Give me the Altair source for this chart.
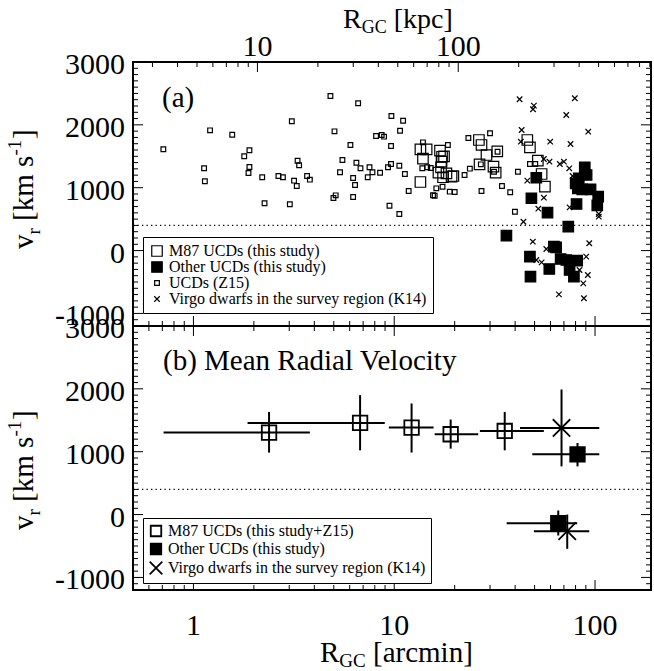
import altair as alt
import pandas as pd

# ---------------- data ----------------
# Panel (a): individual objects, R_GC [arcmin] and v_r [km/s]
z15_x = [0.708, 1.13, 1.14, 1.21, 1.56, 1.79, 1.90, 1.90, 1.88, 2.20, 2.26, 2.65, 2.79, 3.02, 3.09,
         3.17, 3.27, 3.30, 3.36, 3.68, 3.80, 4.81, 5.04, 4.98, 5.11, 5.37, 5.52, 6.05, 6.24, 6.24,
         6.38, 6.48, 6.61, 6.79, 7.38, 7.53, 7.79, 8.50, 8.12, 8.66, 8.90, 9.68, 11.07, 10.69, 9.64,
         9.31, 9.64, 10.6, 11.3, 9.47, 10.6, 11.8, 13.8, 15.2, 15.9, 16.2, 17.4, 18.5, 18.9, 20.0,
         22.4, 23.8, 23.4, 30.0, 27.2, 27.0, 32.7, 34.4, 37.8, 41.3, 39.9, 47.4, 31.4, 13.9, 14.6,
         50.4, 15.6]
z15_v = [1611, 1309, 1102, 1913, 1843, 1500, 1595, 1330, 1234, 1166, 752, 1186, 1166, 736, 2057,
         1112, 1027, 1430, 1357, 1186, 1128, 2459, 1897, 837, 879, 1245, 1441, 1680, 852, 1155,
         1043, 1398, 2343, 1309, 1166, 1325, 1245, 1239, 1823, 1839, 1812, 2141, 2066, 1907, 1664,
         1325, 1377, 1350, 1218, 714, 582, 948, 1309, 1314, 873, 990, 1016, 1680, 937, 932,
         1202, 1303, 1791, 1866, 948, 1372, 1573, 1027, 927, 1255, 618, 1377, 1255, 1722, 1325,
         1377, 880]

m87_x = [13.5, 14.5, 13.9, 13.5, 16.9, 17.3, 17.7, 17.2, 17.1, 16.6, 18.2, 17.5, 19.3, 19.7,
         26.4, 27.2, 28.8, 32.6, 26.6, 31.2, 32.0, 46.0, 47.4, 51.9, 54.2, 56.3]
m87_v = [1611, 1611, 1462, 1091, 1589, 1493, 1500, 1414, 1325, 1239, 1229, 1166, 1175, 1186,
         1759, 1680, 1520, 1579, 1372, 1335, 1239, 1759, 1643, 1430, 1218, 1016]

oth_x = [36.2, 48.2, 51.0, 58.0, 47.4, 47.7, 59.2, 62.4, 64.0, 67.4, 71.9, 74.7, 78.5, 81.5,
         73.6, 80.9, 82.1, 83.0, 88.9, 90.8, 86.4, 95.0, 103.7, 102.6, 80.1]
oth_v = [237, 832, 1159, 603, -97, -415, -293, 62, 52, -134, -150, -309, -415, -161,
         380, 741, 990, 1150, 1325, 1202, 975, 975, 857, 720, 1070]

k14_x = [42.1, 49.6, 49.1, 79.3, 71.9, 92.5, 43.1, 42.7, 59.8, 75.5, 55.6, 59.3, 66.8, 70.0,
         74.4, 77.3, 46.0, 55.6, 52.2, 74.7, 104.4, 104.4, 44.0, 49.0, 57.2, 51.0, 54.2, 93.6,
         90.4, 83.7, 92.1, 87.4, 66.1, 88.0]
k14_v = [2407, 2305, 2248, 2423, 2157, 1891, 1918, 1732, 1732, 1695, 1457, 1414, 1377, 1414,
         1309, 1186, 1112, 841, 666, 688, 582, 539, 459, 141, 25, -150, -187, 116,
         -97, -309, -389, -521, -696, -759]

# Panel (b): mean radial velocities with error bars
mm87_x = [2.38, 6.76, 12.2, 19.1, 35.5]
mm87_v = [1305, 1458, 1384, 1278, 1330]
mm87_xlo = [0.71, 1.86, 9.4, 15.9, 26.7]
mm87_xhi = [3.8, 8.97, 15.7, 26.2, 55.6]
mm87_vlo = [986, 1022, 986, 1049, 1022]
mm87_vhi = [1633, 1900, 1767, 1512, 1633]

moth_x = [81.8, 65.6]
moth_v = [959, -137]
moth_xlo = [48.7, 36.3]
moth_xhi = [105, 81.5]
moth_vlo = [767, -333]
moth_vhi = [1139, 65]

mdw_x = [68.1, 72.7]
mdw_v = [1378, -264]
mdw_xlo = [42.3, 49.6]
mdw_xhi = [105, 93.6]
mdw_vlo = [767, -545]
mdw_vhi = [1990, 0]

threshold_v = [400]

# axis ticks / labels
y_major = [-1000, 0, 1000, 2000]
y_minor = [v for v in range(-1100, 3000, 100) if v % 1000 != 0]
y_labels = [-1000, 0, 1000, 2000, 3000]
x_major = [1, 10, 100]
x_minor = [0.6, 0.7, 0.8, 0.9, 2, 3, 4, 5, 6, 7, 8, 9, 20, 30, 40, 50, 60, 70, 80, 90]
kpc_major = [10, 100]
kpc_minor = [3, 4, 5, 6, 7, 8, 9, 20, 30, 40, 50, 60, 70, 80, 90, 200, 300, 400, 500, 600, 700, 800, 900]
KPC_PER_ARCMIN = 4.8

# ---------------- layout ----------------
W, H, HP = 518, 528, 264
FONT = "Liberation Serif"
TICK_FS = 30

xs = alt.Scale(type="log", domain=[0.5, 190], nice=False)
ysT = alt.Scale(domain=[-1200, 3000], range=[HP, 0], nice=False, zero=False)
ysB = alt.Scale(domain=[-1200, 3000], range=[H, HP], nice=False, zero=False)


def X(f):
    return alt.X(f, type="quantitative", scale=xs, axis=None)


def Y(f, s):
    return alt.Y(f, type="quantitative", scale=s, axis=None)


layers = []

# ---- ticks (inward) ----
ymaj = pd.DataFrame({"v": y_major})
ymin = pd.DataFrame({"v": y_minor})
for s in (ysT, ysB):
    for df, L in ((ymaj, 10), (ymin, 5)):
        layers.append(alt.Chart(df).mark_rule(color="black", strokeWidth=1).encode(
            y=Y("v", s), x=alt.value(0), x2=alt.value(L)))
        layers.append(alt.Chart(df).mark_rule(color="black", strokeWidth=1).encode(
            y=Y("v", s), x=alt.value(W), x2=alt.value(W - L)))

xmaj = pd.DataFrame({"x": x_major})
xmin = pd.DataFrame({"x": x_minor})
for df, L in ((xmaj, 10), (xmin, 5)):
    for y0, y1 in ((H, H - L), (HP, HP - L), (HP, HP + L)):
        layers.append(alt.Chart(df).mark_rule(color="black", strokeWidth=1).encode(
            x=X("x"), y=alt.value(y0), y2=alt.value(y1)))

kmaj = pd.DataFrame({"kpc": kpc_major})
kmin = pd.DataFrame({"kpc": kpc_minor})
for df, L in ((kmaj, 10), (kmin, 5)):
    layers.append(alt.Chart(df).transform_calculate(x=f"datum.kpc / {KPC_PER_ARCMIN}").mark_rule(
        color="black", strokeWidth=1).encode(x=X("x"), y=alt.value(0), y2=alt.value(L)))

# divider between panels
layers.append(alt.Chart(pd.DataFrame({"v": [-1200]})).mark_rule(color="black", strokeWidth=2).encode(
    y=Y("v", ysT), x=alt.value(0), x2=alt.value(W)))

# dotted threshold lines
thr = pd.DataFrame({"v": threshold_v})
for s in (ysT, ysB):
    layers.append(alt.Chart(thr).mark_rule(color="black", strokeWidth=1.3, strokeDash=[1.3, 3.2]).encode(
        y=Y("v", s), x=alt.value(0), x2=alt.value(W)))

# ---- panel (a) points ----
series_top = ["M87 UCDs (this study)", "Other UCDs (this study)", "UCDs (Z15)",
              "Virgo dwarfs in the survey region (K14)"]
XPATH = "M-1,-1L1,1M-1,1L1,-1"
top_df = pd.concat([
    pd.DataFrame({"x": z15_x, "v": z15_v, "series": series_top[2]}),
    pd.DataFrame({"x": k14_x, "v": k14_v, "series": series_top[3]}),
    pd.DataFrame({"x": m87_x, "v": m87_v, "series": series_top[0]}),
    pd.DataFrame({"x": oth_x, "v": oth_v, "series": series_top[1]}),
], ignore_index=True)


def make_legend(y, pad, sw, **extra):
    return alt.Legend(title=None, orient="none", legendX=10, legendY=y, strokeColor="black",
                      fillColor="white", padding=pad, labelFont=FONT, labelFontSize=16,
                      labelColor="black", labelOffset=4, labelLimit=400, rowPadding=0,
                      symbolStrokeColor="black", symbolStrokeWidth=sw, symbolOpacity=1, **extra)


leg_top = make_legend(175, 6, 1.2)
layers.append(alt.Chart(top_df).mark_point(filled=True, strokeWidth=1.2, opacity=1).encode(
    x=X("x"), y=Y("v", ysT),
    shape=alt.Shape("series:N", scale=alt.Scale(domain=series_top,
                    range=["square", "square", "square", XPATH]), legend=leg_top),
    fill=alt.Fill("series:N", scale=alt.Scale(domain=series_top,
                  range=["transparent", "black", "transparent", "transparent"]), legend=leg_top),
    stroke=alt.Stroke("series:N", scale=alt.Scale(domain=series_top,
                      range=["black", "black", "black", "black"]), legend=leg_top),
    size=alt.Size("series:N", scale=alt.Scale(type="ordinal", domain=series_top,
                  range=[110, 110, 22, 30]), legend=leg_top),
))

# ---- panel (b) error bars and points ----
series_bot = ["M87 UCDs (this study+Z15)", "Other UCDs (this study)",
              "Virgo dwarfs in the survey region (K14)"]
bot_df = pd.concat([
    pd.DataFrame({"x": mm87_x, "v": mm87_v, "xlo": mm87_xlo, "xhi": mm87_xhi,
                  "vlo": mm87_vlo, "vhi": mm87_vhi, "series": series_bot[0]}),
    pd.DataFrame({"x": mdw_x, "v": mdw_v, "xlo": mdw_xlo, "xhi": mdw_xhi,
                  "vlo": mdw_vlo, "vhi": mdw_vhi, "series": series_bot[2]}),
    pd.DataFrame({"x": moth_x, "v": moth_v, "xlo": moth_xlo, "xhi": moth_xhi,
                  "vlo": moth_vlo, "vhi": moth_vhi, "series": series_bot[1]}),
], ignore_index=True)

layers.append(alt.Chart(bot_df).mark_rule(color="black", strokeWidth=2).encode(
    x=X("xlo"), x2="xhi", y=Y("v", ysB)))
layers.append(alt.Chart(bot_df).mark_rule(color="black", strokeWidth=2).encode(
    x=X("x"), y=Y("vlo", ysB), y2="vhi"))

leg_bot = make_legend(456, 5, 1.8, symbolSize=110)
layers.append(alt.Chart(bot_df).mark_point(filled=True, strokeWidth=1.8, size=210, opacity=1).encode(
    x=X("x"), y=Y("v", ysB),
    shape=alt.Shape("series:N", scale=alt.Scale(domain=series_bot,
                    range=["square", "square", "M-1.2,-1.2L1.2,1.2M-1.2,1.2L1.2,-1.2"]), legend=leg_bot),
    fill=alt.Fill("series:N", scale=alt.Scale(domain=series_bot,
                  range=["transparent", "black", "transparent"]), legend=leg_bot),
    stroke=alt.Stroke("series:N", scale=alt.Scale(domain=series_bot,
                      range=["black", "black", "black"]), legend=leg_bot),
))

# ---- tick labels ----
ylab = pd.DataFrame({"v": y_labels, "t": [str(v) for v in y_labels]})
for s in (ysT, ysB):
    layers.append(alt.Chart(ylab).mark_text(align="right", baseline="middle", font=FONT, fontSize=TICK_FS,
                                            color="black", dy=3).encode(
        y=Y("v", s), x=alt.value(-8), text="t:N"))

xlab = pd.DataFrame({"x": x_major, "t": [str(v) for v in x_major]})
layers.append(alt.Chart(xlab).mark_text(align="center", baseline="alphabetic", font=FONT, fontSize=TICK_FS,
                                        color="black").encode(
    x=X("x"), y=alt.value(H + 45), text="t:N"))

klab = pd.DataFrame({"kpc": kpc_major, "t": [str(v) for v in kpc_major]})
layers.append(alt.Chart(klab).transform_calculate(x=f"datum.kpc / {KPC_PER_ARCMIN}").mark_text(
    align="center", baseline="alphabetic", font=FONT, fontSize=TICK_FS, color="black").encode(
    x=X("x"), y=alt.value(-6), text="t:N"))


# ---- titles made of pieces (for sub/superscripts) ----
def piece(txt, x, y, dx, dy, size, angle=0):
    kw = dict(align="left", baseline="alphabetic", font=FONT, fontSize=size, color="black", dx=dx, dy=dy)
    if angle:
        kw["angle"] = angle
    return alt.Chart(pd.DataFrame({"t": [txt]})).mark_text(**kw).encode(
        x=alt.value(x), y=alt.value(y), text="t:N")


# top title  R_GC [kpc]
tx, ty = 210, -34
layers += [piece("R", tx, ty, 0, 0, 28), piece("GC", tx, ty, 18.7, 5, 18), piece("[kpc]", tx, ty, 50.7, 0, 28)]
# bottom title  R_GC [arcmin]
bx, by = 187, 600
layers += [piece("R", bx, by, 0, 0, 29), piece("GC", bx, by, 19.3, 5, 19),
           piece("[arcmin]", bx, by, 53, 0, 29)]
# y titles  v_r [km s^-1]
for yy in (187, 468):
    layers += [piece("v", -100, yy, 0, 0, 29, 270), piece("r", -100, yy, 14.5, 7, 19, 270),
               piece("[km s", -100, yy, 28, 0, 29, 270), piece("-1", -100, yy, 93.5, -12, 19, 270),
               piece("]", -100, yy, 110, 0, 29, 270)]
# panel labels
layers.append(piece("(a)", 29, 45, 0, 0, 29))
layers.append(piece("(b) Mean Radial Velocity", 30, 308, 0, 0, 29))

chart = alt.layer(*layers).resolve_scale(
    y="independent", shape="independent", fill="independent", stroke="independent", size="independent"
).resolve_legend(
    shape="independent", fill="independent", stroke="independent", size="independent"
).properties(
    width=W, height=H,
    autosize=alt.AutoSizeParams(type="none"),
    padding={"left": 133, "top": 62, "right": 3, "bottom": 81},
    background="white",
).configure_view(stroke="black", strokeWidth=2)

chart.save("out.html", embed_options={"renderer": "svg", "actions": False})
